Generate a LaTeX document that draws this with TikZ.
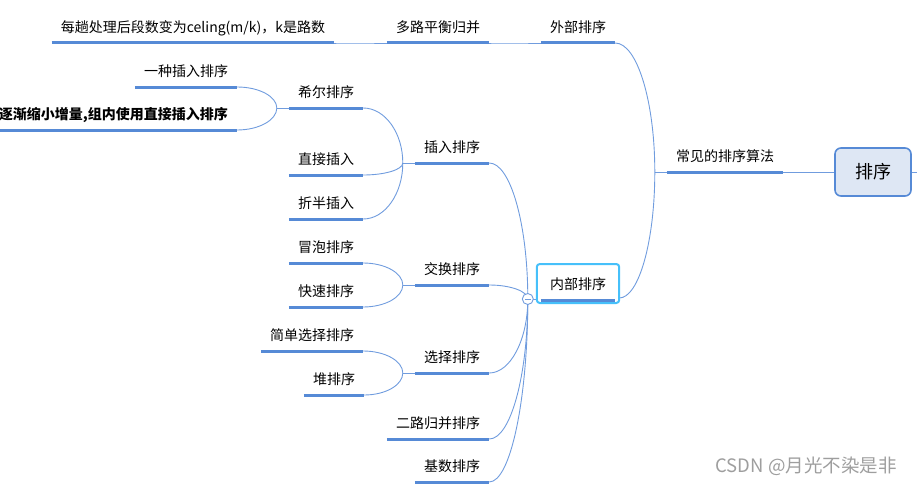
\documentclass[tikz,border=0pt]{standalone}
\usepackage{fontspec}
\setmainfont{Noto Sans CJK SC}
\usetikzlibrary{positioning,calc}
\definecolor{srtblue}{RGB}{86,138,214}
\definecolor{srtline}{RGB}{112,156,222}
\definecolor{srtfill}{RGB}{222,231,244}
\definecolor{srtsel}{RGB}{70,192,250}
\tikzset{
  topic/.style={font=\fontsize{14}{16}\selectfont, inner xsep=9pt, inner ysep=0pt,
    text height=12pt, text depth=10.7pt, anchor=south},
  uline/.style={srtblue, line width=3pt},
  link/.style={srtline, line width=0.9pt},
  rootbox/.style={draw=srtblue, line width=1.6pt, fill=srtfill, rounded corners=6pt,
    minimum width=76pt, minimum height=48pt, font=\fontsize{18}{20}\selectfont},
  selbox/.style={draw=srtsel, line width=2pt, rounded corners=3pt},
  fold/.style={circle, draw=srtline, fill=white, line width=0.9pt, minimum size=11pt, inner sep=0pt}
}
% curve from a junction to the end of a child's underline
\newcommand{\srtlink}[2]{%
  \draw[link] (#1) .. controls ($(#1)!0.55!(#1 |- #2)$) and ($(#2)!0.55!(#1 |- #2)$) .. (#2);}

\begin{document}
\begin{tikzpicture}[x=1pt,y=-1pt]
  \useasboundingbox (0,0) rectangle (917,487);
  % --- root ---
  \node[rootbox] (root) at (873,172) {排序};
  \node[topic] (common) at (725,172) {常见的排序算法};
  % --- external sorting ---
  \node[topic] (ext) at (578,43) {外部排序};
  \node[topic] (multi) at (438,43) {多路平衡归并};
  \node[topic] (pass) at (193,43) {每趟处理后段数变为celing(m/k)，k是路数};
  % --- internal sorting ---
  \node[topic] (inner) at (578,300) {内部排序};
  \node[topic] (ins) at (452,163) {插入排序};
  \node[topic] (swap) at (452,285) {交换排序};
  \node[topic] (sel) at (452,373) {选择排序};
  \node[topic] (merge) at (438,439) {二路归并排序};
  \node[topic] (radix) at (452,482) {基数排序};
  % insertion
  \node[topic] (shell) at (326,108) {希尔排序};
  \node[topic] (direct) at (326,175) {直接插入};
  \node[topic] (binary) at (326,219) {折半插入};
  \node[topic] (kind) at (186,87) {一种插入排序};
  \node[topic,anchor=south east,font=\fontsize{14}{16}\selectfont\bfseries] (gap) at (237,130)
    {逐渐缩小增量,组内使用直接插入排序};
  % exchange
  \node[topic] (bubble) at (326,263) {冒泡排序};
  \node[topic] (quick) at (326,307) {快速排序};
  % selection
  \node[topic] (simple) at (312,351) {简单选择排序};
  \node[topic] (heap) at (334,395) {堆排序};

  % --- junctions ---
  \foreach \p in {common,ext,multi,ins,shell,swap,sel}{%
    \coordinate (\p-j) at ($(\p.south west)+(-12,0)$);
    \draw[link] (\p.south west) -- (\p-j);}
  \coordinate (inner-j) at ($(inner.south west)+(-13,-1)$);
  \coordinate (inner-r) at ($(inner.south east)+(4,-2)$);
  \coordinate (edge) at (917,172);
  \draw[link] (root.west) -- (common.south east);
  \draw[link] (root.east) -- (edge);
  \draw[link] (inner-j) -- ($(inner.south west)+(-4,-1)$);

  % --- branches ---
  \srtlink{common-j}{inner-r}
  \foreach \p/\c in {common/ext, ext/multi, multi/pass, ins/shell, ins/direct, ins/binary,
      shell/kind, shell/gap, swap/bubble, swap/quick, sel/simple, sel/heap}{%
    \srtlink{\p-j}{\c.south east}}
  \foreach \c in {ins,swap,sel,merge,radix}{%
    \srtlink{inner-j}{\c.south east}}

  % --- underlines ---
  \foreach \n in {common,ext,multi,pass,inner,ins,swap,sel,merge,radix,
      shell,direct,binary,kind,gap,bubble,quick,simple,heap}{%
    \draw[uline] (\n.south west) -- (\n.south east);}

  % selected topic and fold button
  \draw[selbox] ($(inner.south west)+(-4,3)$) rectangle ($(inner.south east)+(4,-36)$);
  \node[fold] (inner-fold) at (inner-j) {};
  \draw[srtline, line width=0.9pt] ($(inner-fold.center)+(-3,0)$) -- ($(inner-fold.center)+(3,0)$);

  % watermark
  \node[font=\fontsize{18.5}{20}\selectfont, text=black!38] (mark) at (806,466) {CSDN @月光不染是非};
\end{tikzpicture}
\end{document}
